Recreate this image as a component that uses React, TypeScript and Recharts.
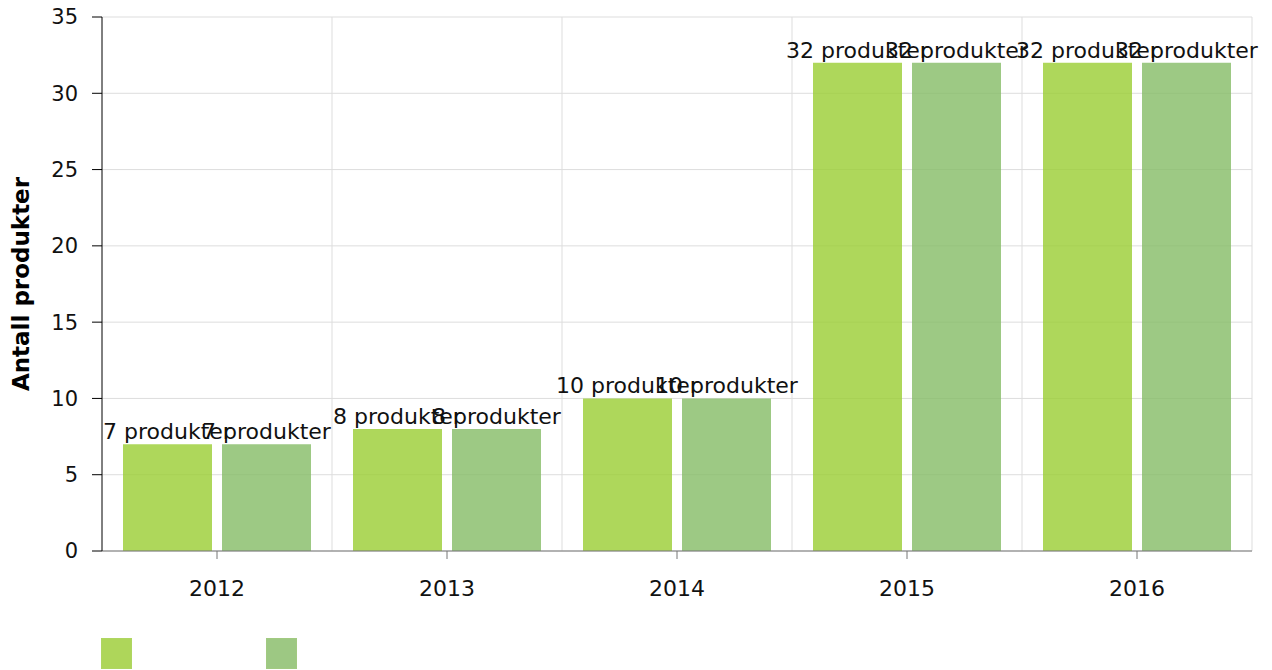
import { BarChart, Bar, XAxis, YAxis, CartesianGrid, LabelList } from 'recharts';

const years = ['2012', '2013', '2014', '2015', '2016'];
const seriesA = [7, 8, 10, 32, 32];
const seriesB = [7, 8, 10, 32, 32];
const yTicks = [0, 5, 10, 15, 20, 25, 30, 35];
const seriesColors = ['#9ACD32', '#85BB65'];
const seriesBorders = ['#9ccc3c', '#8bbd62'];

const data = years.map((year, i) => ({ year, a: seriesA[i], b: seriesB[i] }));

const FONT = '"DejaVu Sans", Verdana, sans-serif';

// label drawn by hand so Recharts does not wrap it to the bar width
const BarLabel = (props: any) => {
  const { x, y, width, value } = props;
  return (
    <text x={x + width / 2} y={y - 5} textAnchor='middle' fill='#111' fontSize={22} fontFamily={FONT}>
      {`${value} produkter`}
    </text>
  );
};

export default function App() {
  return (
    <div style={{ position: 'absolute', left: 0, top: 0, width: 1272, height: 670, fontFamily: FONT }}>
      <BarChart
        width={1272}
        height={670}
        data={data}
        margin={{ top: 17, right: 20, left: 0, bottom: 59 }}
        barCategoryGap={21}
        barGap={10}
      >
        <CartesianGrid
          stroke='#dddddd'
          verticalCoordinatesGenerator={({ offset }: any) =>
            years.map((_, i) => offset.left + ((i + 1) * offset.width) / years.length)
          }
        />
        <XAxis
          dataKey='year'
          height={60}
          stroke='#777777'
          tickSize={8}
          tickMargin={21}
          tick={{ fill: '#111', fontSize: 22, fontFamily: FONT }}
        />
        <YAxis
          width={102}
          domain={[0, 35]}
          ticks={yTicks}
          interval={0}
          stroke='#000000'
          tickSize={10}
          tickMargin={14}
          tick={{ fill: '#111', fontSize: 21, fontFamily: FONT }}
          label={{
            value: 'Antall produkter',
            angle: -90,
            position: 'insideLeft',
            offset: 21,
            style: { textAnchor: 'middle', fontWeight: 'bold', fontSize: 23, fill: '#000', fontFamily: FONT },
          }}
        />
        <Bar dataKey='a' fill={seriesColors[0]} fillOpacity={0.8} isAnimationActive={false}>
          <LabelList dataKey='a' content={BarLabel} />
        </Bar>
        <Bar dataKey='b' fill={seriesColors[1]} fillOpacity={0.8} isAnimationActive={false}>
          <LabelList dataKey='b' content={BarLabel} />
        </Bar>
      </BarChart>
      {seriesColors.map((c, i) => (
        <div
          key={c}
          style={{
            position: 'absolute',
            left: 101 + i * 165,
            top: 638,
            width: 29,
            height: 29,
            background: c,
            opacity: 0.8,
            border: `1px solid ${seriesBorders[i]}`,
          }}
        />
      ))}
    </div>
  );
}
